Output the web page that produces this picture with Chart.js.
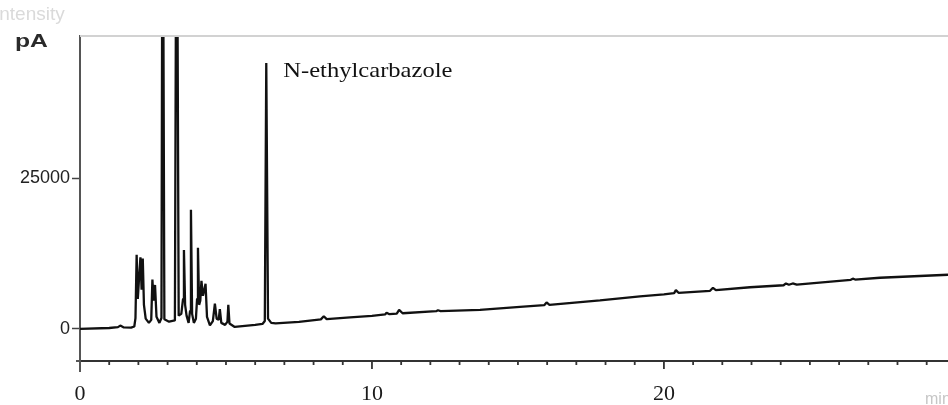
<!DOCTYPE html>
<html>
<head>
<meta charset="utf-8">
<script src="https://cdn.jsdelivr.net/npm/chart.js@4.4.1/dist/chart.umd.min.js"></script>
<style>
  html, body { margin: 0; padding: 0; background: #fff; }
</style>
</head>
<body>
<canvas id="gc" width="948" height="405"></canvas>
<script>
// retention time (min) / detector signal (pA)
const retentionTimes = [
  0, 1.0, 1.3, 1.38, 1.5, 1.75, 1.86, 1.9, 1.94, 1.98, 2.03, 2.07, 2.11, 2.15, 2.19, 2.25,
  2.36, 2.44, 2.48, 2.52, 2.57, 2.62, 2.72, 2.79, 2.83, 2.89, 3.05, 3.25, 3.31, 3.38, 3.47,
  3.53, 3.56, 3.6, 3.65, 3.72, 3.77, 3.8, 3.84, 3.9, 3.97, 4.01, 4.04, 4.08, 4.12, 4.16,
  4.21, 4.25, 4.3, 4.35, 4.45, 4.55, 4.62, 4.68, 4.75, 4.79, 4.84, 4.97, 5.05, 5.08, 5.12,
  5.3, 5.65, 6.0, 6.25, 6.33, 6.38, 6.44, 6.55, 6.7, 7.5, 8.25, 8.35, 8.45, 9.25, 10.0,
  10.45, 10.5, 10.6, 10.85, 10.93, 11.05, 12.2, 12.26, 12.35, 13.7, 15.07, 15.9, 15.98,
  16.08, 17.81, 19.18, 20.0, 20.35, 20.41, 20.5, 21.58, 21.68, 21.78, 22.95, 24.1, 24.18,
  24.28, 24.41, 24.55, 26.4, 26.47, 26.55, 27.4, 29.73
];
const signalPA = [
  0, 150, 300, 550, 250, 200, 400, 1800, 12300, 5000, 9000, 11900, 6500, 11700, 4000, 1700,
  1000, 1500, 8200, 4700, 7300, 2000, 1000, 1800, 90000, 1600, 1200, 1400, 90000, 2200, 2500,
  5000, 13100, 4000, 2200, 1000, 3000, 19800, 2500, 1000, 1700, 5000, 13500, 4000, 4700, 8000,
  5500, 6300, 7500, 2000, 600, 1300, 4200, 1700, 1500, 3300, 1000, 670, 1200, 4000, 900,
  330, 500, 670, 830, 1300, 44200, 1700, 1000, 920, 1170, 1580, 2100, 1620, 1920, 2170,
  2400, 2700, 2450, 2550, 3150, 2600, 2950, 3100, 2970, 3170, 3670, 3950, 4400,
  4000, 4750, 5420, 5750, 5950, 6450, 6000, 6330, 6830, 6450, 6920, 7250, 7550,
  7330, 7550, 7350, 8150, 8350, 8200, 8500, 9000
];
const yTickValues = [0, 25000];
const xTickValues = [0, 10, 20];
const peakName = 'N-ethylcarbazole';
const peakTime = 6.38;
const peakHeight = 44200;

const points = retentionTimes.map((t, i) => ({ x: t, y: signalPA[i] }));

const decorations = {
  id: 'decorations',
  afterDraw(chart) {
    const { ctx, chartArea: a, scales: { x, y } } = chart;
    ctx.save();
    // faint frame line along the top
    ctx.strokeStyle = '#d2d2d2';
    ctx.lineWidth = 2;
    ctx.beginPath(); ctx.moveTo(a.left, a.top); ctx.lineTo(a.right, a.top); ctx.stroke();
    // x tick marks, every minute, longer on labelled ones
    ctx.strokeStyle = '#333';
    ctx.lineWidth = 1.8;
    x.ticks.forEach(t => {
      const px = x.getPixelForValue(t.value);
      const len = xTickValues.includes(t.value) ? 8 : 4;
      ctx.beginPath(); ctx.moveTo(px, a.bottom); ctx.lineTo(px, a.bottom + len); ctx.stroke();
    });
    // y axis runs a bit past the x axis
    ctx.strokeStyle = '#555';
    ctx.lineWidth = 2;
    ctx.beginPath(); ctx.moveTo(a.left, a.bottom); ctx.lineTo(a.left, a.bottom + 11); ctx.stroke();
    ctx.beginPath(); ctx.moveTo(a.left - 4, a.bottom); ctx.lineTo(a.left, a.bottom); ctx.stroke();

    ctx.textBaseline = 'alphabetic';
    ctx.fillStyle = '#dadada';
    ctx.font = '19px "Liberation Sans"';
    ctx.fillText('Intensity', -6, 20);

    ctx.fillStyle = '#2a2a2a';
    ctx.font = 'bold 19px "Liberation Sans"';
    ctx.save(); ctx.translate(15, 47); ctx.scale(1.3, 1); ctx.fillText('pA', 0, 0); ctx.restore();

    ctx.fillStyle = '#c6c6c6';
    ctx.font = '16px "Liberation Sans"';
    ctx.fillText('min', 925, 404);

    const lx = x.getPixelForValue(peakTime) + 17;
    const ly = y.getPixelForValue(peakHeight) + 14;
    ctx.fillStyle = '#111';
    ctx.font = '21px "Liberation Serif"';
    ctx.save(); ctx.translate(lx, ly); ctx.scale(1.17, 1); ctx.fillText(peakName, 0, 0); ctx.restore();
    ctx.restore();
  }
};

new Chart(document.getElementById('gc'), {
  type: 'line',
  data: {
    datasets: [{
      data: points,
      borderColor: '#111',
      borderWidth: 2.3,
      borderJoinStyle: 'bevel',
      pointRadius: 0,
      tension: 0,
      clip: 0
    }]
  },
  options: {
    responsive: false,
    animation: false,
    layout: { padding: { top: 36, left: 0, right: 0, bottom: 0 } },
    plugins: { legend: { display: false }, tooltip: { enabled: false } },
    scales: {
      x: {
        type: 'linear',
        min: 0,
        max: 29.73,
        afterFit: s => { s.height = 44; },
        grid: { display: false },
        border: { display: true, color: '#333', width: 2 },
        ticks: {
          stepSize: 1,
          autoSkip: false,
          includeBounds: false,
          maxRotation: 0,
          padding: 12,
          color: '#1a1a1a',
          font: { family: '"Liberation Serif"', size: 22 },
          callback: v => xTickValues.includes(v) ? String(v) : ''
        }
      },
      y: {
        min: -5333,
        max: 48667,
        afterBuildTicks: s => { s.ticks = yTickValues.map(v => ({ value: v })); },
        afterFit: s => { s.width = 80; },
        grid: { drawOnChartArea: false, drawTicks: true, tickLength: 8, tickColor: '#444', tickWidth: 1.5 },
        border: { display: true, color: '#555', width: 2 },
        ticks: {
          padding: 2,
          color: '#222',
          font: { family: '"Liberation Sans"', size: 18 },
          callback: v => String(v)
        }
      }
    }
  },
  plugins: [decorations]
});
</script>
</body>
</html>
